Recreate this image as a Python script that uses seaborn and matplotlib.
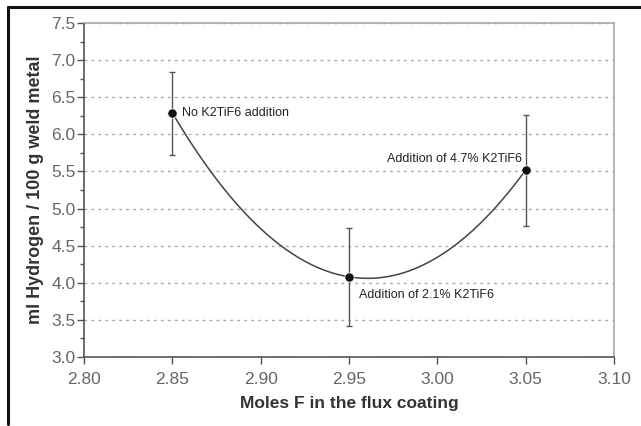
import numpy as np
import pandas as pd
import matplotlib.pyplot as plt
import seaborn as sns
from matplotlib.lines import Line2D
from matplotlib.ticker import MultipleLocator

# data
moles_f = [2.85, 2.95, 3.05]
hydrogen = [6.29, 4.08, 5.52]
err_low = [5.72, 3.42, 4.77]
err_high = [6.84, 4.74, 6.26]
labels = ["No K2TiF6 addition", "Addition of 2.1% K2TiF6", "Addition of 4.7% K2TiF6"]

df = pd.DataFrame({"moles": moles_f, "h2": hydrogen, "lo": err_low, "hi": err_high})

sns.set_style("white")
plt.rcParams['font.family'] = ['Liberation Sans', 'DejaVu Sans']

fig = plt.figure(figsize=(6.41, 4.26), dpi=100)
ax = fig.add_axes([0.131, 0.162, 0.827, 0.784])

# smooth fitted curve through the three points
sns.regplot(data=df, x="moles", y="h2", order=2, ci=None, scatter=False,
            line_kws={"color": "#444444", "lw": 1.1}, ax=ax)

# error bars
ax.errorbar(df["moles"], df["h2"],
            yerr=[df["h2"] - df["lo"], df["hi"] - df["h2"]],
            fmt="none", ecolor="#555555", elinewidth=1.0, capsize=2, capthick=1.0)
sns.scatterplot(data=df, x="moles", y="h2", color="#111111", s=45, zorder=5, ax=ax)

# annotations
ax.annotate(labels[0], (moles_f[0], hydrogen[0]), xytext=(7, 0),
            textcoords="offset points", fontsize=9, color="#222222", va="center")
ax.annotate(labels[1], (moles_f[1], hydrogen[1]), xytext=(7, -13),
            textcoords="offset points", fontsize=9, color="#222222", va="center")
ax.annotate(labels[2], (moles_f[2], hydrogen[2]), xytext=(-3, 8),
            textcoords="offset points", fontsize=9, color="#222222", va="center", ha="right")

ax.set_xlim(2.80, 3.10)
ax.set_ylim(3.0, 7.5)
ax.xaxis.set_major_locator(MultipleLocator(0.05))
ax.yaxis.set_major_locator(MultipleLocator(0.5))
ax.yaxis.set_minor_locator(MultipleLocator(0.25))
ax.xaxis.set_major_formatter(plt.FormatStrFormatter("%.2f"))
ax.yaxis.set_major_formatter(plt.FormatStrFormatter("%.1f"))

ax.grid(axis="y", which="major", ls=(0, (2, 3)), color="#aaaaaa", lw=1.0)
for s in ["left", "bottom"]:
    ax.spines[s].set_color("#555555")
    ax.spines[s].set_linewidth(1.2)
for s in ["top", "right"]:
    ax.spines[s].set_color("#aaaaaa")
    ax.spines[s].set_linewidth(1.2)

ax.tick_params(axis="both", which="major", direction="out", length=5, width=1.0,
               color="#555555", labelsize=12.5, labelcolor="#666666")
ax.tick_params(axis="x", bottom=True, pad=6)
ax.tick_params(axis="y", left=True, pad=1)
ax.tick_params(axis="y", which="minor", left=True, direction="out", length=3,
               width=1.0, color="#555555")

ax.set_xlabel("Moles F in the flux coating", fontsize=12.5, fontweight="bold",
              color="#333333", labelpad=6)
ax.set_ylabel("ml Hydrogen / 100 g weld metal", fontsize=13, fontweight="bold",
              color="#333333", labelpad=5)

# black frame around the figure (left and top)
fig.add_artist(Line2D([8 / 641, 8 / 641], [1 - 424 / 426, 1 - 7 / 426],
                      color="#111111", lw=2.2, transform=fig.transFigure))
fig.add_artist(Line2D([8 / 641, 1.0], [1 - 7 / 426, 1 - 7 / 426],
                      color="#111111", lw=2.2, transform=fig.transFigure))

fig.savefig("out.png", dpi=100)
